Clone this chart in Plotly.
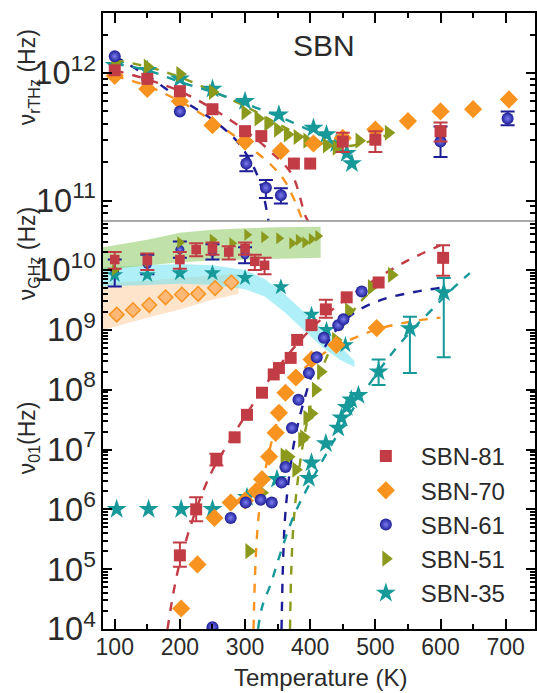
import plotly.graph_objects as go

# ---------------- data ----------------
# Top panel: nu_rTHz (Hz)
T81_thz = [100, 150, 200, 250, 300, 325, 375, 400]
V81_thz = [1.05e12, 9.0e11, 7.2e11, 5.2e11, 3.5e11, 3.2e11, 1.95e11, 1.95e11]
T81_thz_e = [450, 500, 600]
V81_thz_e = [2.9e11, 3.0e11, 3.5e11]
L81_thz_e = [2.4e11, 2.4e11, 2.9e11]
H81_thz_e = [3.4e11, 3.5e11, 4.1e11]

T70_thz = [100, 150, 200, 250, 300, 355, 405, 450, 500, 550, 600, 650, 705]
V70_thz = [9.5e11, 7.5e11, 6.0e11, 3.9e11, 2.9e11, 2.45e11, 2.8e11, 3.1e11, 3.6e11, 4.2e11, 5.0e11, 5.2e11, 6.2e11]

T61_thz = [100, 150, 200]
V61_thz = [1.35e12, 9.0e11, 5.0e11]
T61_thz_e = [302, 332, 355, 600, 703]
V61_thz_e = [1.95e11, 1.26e11, 1.1e11, 2.9e11, 4.4e11]
L61_thz_e = [1.7e11, 1.05e11, 0.95e11, 2.2e11, 3.9e11]
H61_thz_e = [2.25e11, 1.45e11, 1.25e11, 3.8e11, 5.0e11]

T51_thz = [100, 150, 200, 250, 300, 320, 335, 350, 365, 380, 395, 410, 425, 440, 475, 520]
V51_thz = [1.2e12, 1.12e12, 9.8e11, 7.1e11, 4.9e11, 4.4e11, 4.0e11, 3.6e11, 3.3e11, 3.15e11, 2.95e11, 2.8e11, 2.7e11, 2.6e11, 2.95e11, 3.4e11]

T35_thz = [100, 150, 200, 250, 300, 352, 405, 425, 440, 456, 464]
V35_thz = [1.15e12, 1.05e12, 9.0e11, 7.5e11, 6.0e11, 4.7e11, 3.7e11, 3.3e11, 2.8e11, 2.35e11, 1.95e11]

# dashed fits, top panel (T, nu)
F81_thz_T = [100, 150, 200, 250, 300, 340, 372, 393, 400]
F81_thz_V = [1.05e12, 8.9e11, 7.2e11, 5.25e11, 3.55e11, 2.4e11, 1.6e11, 7.5e10, 6.5e10]
F70_thz_T = [100, 150, 200, 250, 300, 340, 360, 380, 390]
F70_thz_V = [9.5e11, 7.9e11, 6.0e11, 4.2e11, 2.8e11, 1.9e11, 1.45e11, 9.0e10, 6.5e10]
F61_thz_T = [100, 150, 200, 250, 283, 300, 318, 328, 336]
F61_thz_V = [1.35e12, 9.5e11, 6.3e11, 4.3e11, 3.1e11, 2.4e11, 1.62e11, 1.12e11, 6.9e10]
F51_thz_T = [100, 150, 200, 250, 300, 350, 400, 440, 480, 520]
F51_thz_V = [1.26e12, 1.12e12, 9.3e11, 7.2e11, 5.5e11, 4.0e11, 3.0e11, 2.65e11, 2.8e11, 3.3e11]
F35_thz_T = [100, 150, 200, 250, 300, 350, 400, 440]
F35_thz_V = [1.18e12, 1.05e12, 8.5e11, 7.1e11, 5.75e11, 4.6e11, 3.55e11, 2.9e11]

# Bottom panel, GHz relaxation
T81_ghz = [100, 150, 200, 225, 250, 275, 300, 315, 330]
V81_ghz = [1.5e10, 1.45e10, 1.5e10, 2.2e10, 2.3e10, 2.0e10, 2.3e10, 1.4e10, 1.2e10]
L81_ghz = [1.05e10, 1.0e10, 1.05e10, 1.7e10, 1.8e10, 1.5e10, 1.8e10, 1.0e10, 0.85e10]
H81_ghz = [2.0e10, 1.9e10, 2.0e10, 2.8e10, 2.9e10, 2.5e10, 2.9e10, 1.8e10, 1.6e10]
T70_ghz = [103, 128, 153, 178, 203, 228, 254, 279]
V70_ghz = [1.8e9, 2.15e9, 2.6e9, 3.5e9, 3.9e9, 4.0e9, 5.0e9, 6.2e9]
T61_ghz = [100, 150, 200, 250, 300]
V61_ghz = [9.0e9, 1.25e10, 2.2e10, 2.0e10, 1.8e10]
L61_ghz = [5.3e9, 8.5e9, 1.6e10, 1.5e10, 1.3e10]
H61_ghz = [1.5e10, 1.8e10, 3.0e10, 2.7e10, 2.4e10]
T51_ghz = [100, 150, 200, 250, 280, 303, 329, 352, 372, 382, 392, 402, 412]
V51_ghz = [1.0e10, 1.4e10, 2.9e10, 3.2e10, 2.8e10, 3.9e10, 3.55e10, 3.4e10, 2.8e10, 3.2e10, 2.9e10, 3.3e10, 3.7e10]
T35_ghz = [100, 150, 200, 250, 300, 355, 402, 425, 454]
V35_ghz = [8.3e9, 8.3e9, 8.9e9, 8.9e9, 7.4e9, 5.2e9, 1.8e9, 1.0e9, 5.6e8]

# shaded bands (T, lower, upper)
BG_T = [82, 150, 200, 250, 300, 350, 416]
BG_L = [1.0e10, 1.2e10, 1.35e10, 1.45e10, 1.5e10, 1.55e10, 1.6e10]
BG_U = [2.4e10, 3.2e10, 4.2e10, 4.7e10, 5.0e10, 5.2e10, 5.3e10]
BC_T = [82, 150, 200, 250, 300, 330, 360, 390, 420, 445, 468]
BC_L = [5.3e9, 5.6e9, 5.9e9, 5.6e9, 4.8e9, 3.6e9, 2.0e9, 1.0e9, 5.0e8, 3.2e8, 2.4e8]
BC_U = [1.12e10, 1.2e10, 1.26e10, 1.2e10, 1.0e10, 7.1e9, 4.0e9, 2.0e9, 1.0e9, 5.6e8, 3.0e8]
BO_T = [82, 150, 200, 250, 290]
BO_L = [1.0e9, 1.6e9, 2.2e9, 3.2e9, 4.0e9]
BO_U = [6.0e9, 6.6e9, 7.4e9, 8.2e9, 8.7e9]

# Bottom panel, nu_01
T81 = [284, 303, 326, 344, 352, 370, 380, 402, 456, 505]
V81 = [1.6e7, 3.8e7, 8.9e7, 1.8e8, 2.3e8, 3.4e8, 6.8e8, 1.2e9, 3.5e9, 6.2e9]
T81_e = [200, 225, 256, 424, 604]
V81_e = [1.7e5, 1.0e6, 6.8e6, 2.2e9, 1.6e10]
L81_e = [1.1e5, 6.3e5, 5.4e6, 1.6e9, 8.0e9]
H81_e = [2.8e5, 1.6e6, 8.5e6, 3.2e9, 2.6e10]

T70 = [202, 227, 253, 278, 300, 317, 326, 337, 347, 352, 362, 378, 402, 440, 502]
V70 = [2.2e4, 1.2e5, 7.2e5, 1.3e6, 1.4e6, 2.0e6, 3.2e6, 7.6e6, 1.9e7, 4.1e7, 8.9e7, 1.6e8, 3.2e8, 5.6e8, 1.07e9]

T61 = [250, 278, 301, 324, 341, 356, 362, 372, 382, 398, 410, 421, 443, 451, 479]
V61 = [1.07e4, 7.2e5, 1.3e6, 1.45e6, 1.3e6, 2.8e6, 5.1e6, 2.3e7, 6.8e7, 1.9e8, 3.5e8, 7.4e8, 1.2e9, 1.5e9, 4.4e9]

T51 = [306, 326, 360, 367, 378, 387, 390, 395, 402, 408, 416, 439, 459, 494, 525]
V51 = [2.0e5, 1.9e6, 7.9e6, 7.6e6, 4.6e6, 1.45e7, 1.6e7, 3.4e7, 4.0e7, 1.0e8, 2.0e8, 6.8e8, 2.1e9, 5.2e9, 8.3e9]

T35 = [103, 152, 202, 250, 303, 349, 398, 402, 424, 443, 448, 456, 463, 474]
V35 = [1.0e6, 1.0e6, 1.0e6, 1.0e6, 1.6e6, 3.2e6, 3.3e6, 6.0e6, 1.26e7, 2.3e7, 3.4e7, 5.1e7, 6.8e7, 8.1e7]
T35_e = [505, 553, 605]
V35_e = [2.0e8, 1.05e9, 4.2e9]
L35_e = [1.2e8, 1.9e8, 3.5e8]
H35_e = [3.2e8, 1.65e9, 7.4e9]

# dashed fits, bottom panel
F81_T = [181, 190, 200, 225, 250, 275, 300, 350, 400, 450, 500, 550, 600]
F81_V = [1.0e4, 4.0e4, 1.3e5, 1.0e6, 4.5e6, 1.3e7, 3.6e7, 2.3e8, 1.0e9, 3.0e9, 7.0e9, 1.45e10, 2.6e10]
F70_T = [313, 315, 318, 323, 330, 345, 365, 390, 420, 450, 500, 550, 600]
F70_V = [1.0e4, 6.3e4, 3.2e5, 1.3e6, 4.0e6, 2.0e7, 8.9e7, 2.2e8, 4.0e8, 6.0e8, 1.0e9, 1.35e9, 1.6e9]
F61_T = [356, 358, 361, 366, 375, 390, 410, 440, 470, 510, 560, 610]
F61_V = [1.0e4, 1.0e5, 6.3e5, 2.5e6, 1.26e7, 6.3e7, 2.8e8, 1.0e9, 2.0e9, 3.2e9, 4.3e9, 5.2e9]
F51_T = [369, 371, 374, 379, 386, 396, 410, 430, 455, 480, 505, 530]
F51_V = [1.0e4, 1.0e5, 5.0e5, 2.0e6, 7.9e6, 3.2e7, 1.26e8, 4.5e8, 1.4e9, 3.2e9, 5.6e9, 8.9e9]
F35_T = [320, 326, 340, 352, 375, 401, 450, 485, 525, 560, 589, 615, 645]
F35_V = [1.0e4, 2.3e4, 5.9e4, 1.55e5, 7.9e5, 2.9e6, 2.5e7, 1.0e8, 4.0e8, 1.1e9, 2.3e9, 4.5e9, 8.9e9]

X_TICKS = [100, 200, 300, 400, 500, 600, 700]
SERIES = ["SBN-81", "SBN-70", "SBN-61", "SBN-51", "SBN-35"]

# ---------------- styling ----------------
W, H = 537, 693
ML, MR, MT, MB = 103, 0, 13, 64
PW, PH = W - ML - MR, H - MT - MB
SPLIT = (629 - 221) / PH
FONT = "Liberation Sans, Arial, sans-serif"
TXT = "#2a2a2a"

C81, C70, C61, C51, C35 = "#c23c46", "#f8931f", "#1d1d97", "#8b9a1c", "#17999a"


def px(x):
    return (x - ML) / PW


def py(y):
    return (H - MB - y) / PH


STY = {
    "SBN-81": dict(sym="square", color=C81, size=12),
    "SBN-70": dict(sym="diamond", color=C70, size=14),
    "SBN-61": dict(sym="circle", color=C61, size=12, gradient=dict(type="radial", color="#7d7df0")),
    "SBN-51": dict(sym="triangle-right", color=C51, size=14),
    "SBN-35": dict(sym="star", color=C35, size=15),
}


def marker_of(name, scale=1.0, **over):
    s = STY[name]
    d = dict(symbol=s["sym"], color=s["color"], size=s["size"] * scale, line=dict(width=0))
    if "gradient" in s:
        d["gradient"] = s["gradient"]
    d.update(over)
    return d


fig = go.Figure()


def band(T, lo, hi, color, ax):
    xs = list(T) + list(T)[::-1]
    ys = list(hi) + list(lo)[::-1]
    fig.add_trace(go.Scatter(x=xs, y=ys, fill="toself", fillcolor=color, line=dict(width=0),
                             mode="lines", hoverinfo="skip", showlegend=False, xaxis="x", yaxis=ax))


def dashed(T, V, color, ax):
    fig.add_trace(go.Scatter(x=T, y=V, mode="lines", line=dict(color=color, width=2.4, dash="dash", shape="spline"),
                             showlegend=False, hoverinfo="skip", xaxis="x" if ax == "y" else "x2", yaxis=ax))


def pts(T, V, name, ax, scale=1.0, legend=False, lo=None, hi=None, **over):
    tr = dict(x=T, y=V, mode="markers", marker=marker_of(name, scale, **over), name=name,
              showlegend=legend, legendgroup=name, xaxis="x" if ax == "y" else "x2", yaxis=ax, cliponaxis=True)
    if lo is not None:
        tr["error_y"] = dict(type="data", symmetric=False,
                             array=[h - v for h, v in zip(hi, V)],
                             arrayminus=[v - l for v, l in zip(V, lo)],
                             color=STY[name]["color"], thickness=2, width=7)
    fig.add_trace(go.Scatter(**tr))


# bands
band(BO_T, BO_L, BO_U, "rgba(252,205,160,0.55)", "y")
band(BC_T, BC_L, BC_U, "rgba(110,225,240,0.55)", "y")
band(BG_T, BG_L, BG_U, "rgba(150,205,110,0.6)", "y")

# dashed fits
for T, V, c in [(F81_thz_T, F81_thz_V, C81), (F70_thz_T, F70_thz_V, C70), (F61_thz_T, F61_thz_V, C61),
                (F51_thz_T, F51_thz_V, C51), (F35_thz_T, F35_thz_V, C35)]:
    dashed(T, V, c, "y2")
for T, V, c in [(F81_T, F81_V, C81), (F70_T, F70_V, C70), (F61_T, F61_V, C61),
                (F51_T, F51_V, C51), (F35_T, F35_V, C35)]:
    dashed(T, V, c, "y")

# top panel markers
pts(T35_thz, V35_thz, "SBN-35", "y2")
pts(T51_thz, V51_thz, "SBN-51", "y2")
pts(T70_thz, V70_thz, "SBN-70", "y2")
pts(T61_thz, V61_thz, "SBN-61", "y2")
pts(T61_thz_e, V61_thz_e, "SBN-61", "y2", lo=L61_thz_e, hi=H61_thz_e)
pts(T81_thz, V81_thz, "SBN-81", "y2")
pts(T81_thz_e, V81_thz_e, "SBN-81", "y2", lo=L81_thz_e, hi=H81_thz_e)

# GHz markers
pts(T61_ghz, V61_ghz, "SBN-61", "y", 0.75, lo=L61_ghz, hi=H61_ghz)
pts(T35_ghz, V35_ghz, "SBN-35", "y", 0.85)
pts(T70_ghz, V70_ghz, "SBN-70", "y", 0.8, color="#fbb877", line=dict(color=C70, width=1.5))
pts(T51_ghz, V51_ghz, "SBN-51", "y", 0.75)
pts(T81_ghz, V81_ghz, "SBN-81", "y", 0.8, lo=L81_ghz, hi=H81_ghz)

# nu_01 markers
pts(T35, V35, "SBN-35", "y")
pts(T35_e, V35_e, "SBN-35", "y", lo=L35_e, hi=H35_e)
pts(T51, V51, "SBN-51", "y")
pts(T70, V70, "SBN-70", "y")
pts(T61, V61, "SBN-61", "y")
pts(T81, V81, "SBN-81", "y")
pts(T81_e, V81_e, "SBN-81", "y", lo=L81_e, hi=H81_e)

# legend entries (legend only)
for i, nm in enumerate(SERIES):
    fig.add_trace(go.Scatter(x=[None], y=[None], mode="markers", marker=marker_of(nm), name=nm,
                             showlegend=True, legendrank=i + 1, xaxis="x", yaxis="y"))

axis_common = dict(showline=True, linecolor="black", linewidth=2, ticks="inside", tickcolor="black",
                   tickwidth=2, showgrid=False, zeroline=False)
minor_x = dict(ticks="inside", ticklen=5, tickwidth=1.5, tickcolor="black", dtick=50, tick0=50)
minor_y = dict(ticks="inside", ticklen=5, tickwidth=1.5, tickcolor="black", dtick="D1")

fig.update_layout(
    width=W, height=H, margin=dict(l=ML, r=MR, t=MT, b=MB),
    plot_bgcolor="white", paper_bgcolor="white",
    font=dict(family=FONT, color=TXT, size=22),
    xaxis=dict(domain=[0, 1], anchor="y", range=[82, 745], tickmode="array", tickvals=X_TICKS,
               ticklen=10, tickfont=dict(size=23), ticklabelstandoff=-4,
               minor=minor_x, mirror=False, **axis_common),
    xaxis2=dict(matches="x", anchor="y2", side="top", range=[82, 745], tickmode="array", tickvals=X_TICKS,
                showticklabels=False, ticklen=10, minor=minor_x, **axis_common),
    yaxis=dict(type="log", domain=[0, SPLIT], anchor="x", range=[4, 10.82], dtick=1, tick0=0,
               exponentformat="power", ticklen=9, tickfont=dict(size=26), mirror="ticks",
               minor=minor_y, **axis_common),
    yaxis2=dict(type="log", domain=[SPLIT, 1], anchor="x2", range=[10.84, 12.47], dtick=1, tick0=0,
                exponentformat="power", ticklen=9, tickfont=dict(size=26), mirror="ticks",
                minor=minor_y, **axis_common),
    legend=dict(x=px(352), y=py(434), xanchor="left", yanchor="top", bgcolor="rgba(0,0,0,0)",
                font=dict(size=24, color=TXT), itemwidth=60, tracegroupgap=0, traceorder="normal"),
    showlegend=True,
)

fig.add_shape(type="line", xref="paper", yref="paper", x0=0, x1=1, y0=SPLIT, y1=SPLIT,
              line=dict(color="#8c8c8c", width=1.5))

ann = [
    dict(text="SBN", x=px(325), y=py(45), size=30, angle=0),
    dict(text="Temperature (K)", x=px(322), y=py(677), size=24, angle=0),
    dict(text="ν<sub>rTHz</sub> (Hz)", x=px(28), y=py(77), size=23, angle=-90),
    dict(text="ν<sub>GHz</sub> (Hz)", x=px(28), y=py(253), size=23, angle=-90),
    dict(text="ν<sub>01</sub>(Hz)", x=px(28), y=py(438), size=23, angle=-90),
]
for a in ann:
    fig.add_annotation(xref="paper", yref="paper", xanchor="center", yanchor="middle", showarrow=False,
                       text=a["text"], x=a["x"], y=a["y"], textangle=a["angle"],
                       font=dict(family=FONT, color=TXT, size=a["size"]))

fig.write_html("out.html")
